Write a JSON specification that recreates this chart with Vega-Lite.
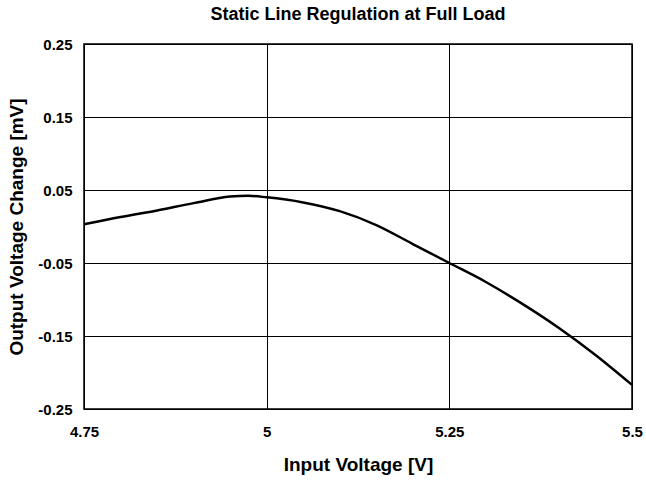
{
  "$schema": "https://vega.github.io/schema/vega-lite/v6.json",
  "autosize": "none",
  "width": 548,
  "height": 365,
  "padding": {"left": 84, "top": 44, "right": 14, "bottom": 74},
  "background": "white",
  "title": {
    "text": "Static Line Regulation at Full Load",
    "font": "Liberation Sans",
    "fontSize": 18,
    "fontWeight": "bold",
    "color": "#000",
    "anchor": "middle",
    "offset": 13
  },
  "data": {
    "values": [
      {"v": 4.75, "dv": 0.003},
      {"v": 4.80, "dv": 0.013},
      {"v": 4.85, "dv": 0.022},
      {"v": 4.90, "dv": 0.032},
      {"v": 4.95, "dv": 0.041},
      {"v": 4.975, "dv": 0.042},
      {"v": 5.00, "dv": 0.040},
      {"v": 5.05, "dv": 0.033},
      {"v": 5.10, "dv": 0.021},
      {"v": 5.15, "dv": 0.002},
      {"v": 5.20, "dv": -0.024},
      {"v": 5.25, "dv": -0.050},
      {"v": 5.30, "dv": -0.076},
      {"v": 5.35, "dv": -0.106},
      {"v": 5.40, "dv": -0.139},
      {"v": 5.45, "dv": -0.176},
      {"v": 5.50, "dv": -0.217}
    ]
  },
  "mark": {"type": "line", "color": "#000", "strokeWidth": 2.5, "interpolate": "monotone"},
  "encoding": {
    "x": {
      "field": "v",
      "type": "quantitative",
      "title": "Input Voltage [V]",
      "scale": {"domain": [4.75, 5.5], "nice": false, "zero": false},
      "axis": {
        "values": [4.75, 5, 5.25, 5.5],
        "labelExpr": "datum.value == 5 ? '5' : (datum.value == 5.5 ? '5.5' : format(datum.value, '.2f'))",
        "labelPadding": 15,
        "titlePadding": 16,
        "labelFlush": false
      }
    },
    "y": {
      "field": "dv",
      "type": "quantitative",
      "title": "Output Voltage Change [mV]",
      "scale": {"domain": [-0.25, 0.25], "nice": false, "zero": false},
      "axis": {
        "values": [-0.25, -0.15, -0.05, 0.05, 0.15, 0.25],
        "labelExpr": "replace(format(datum.value, '.2f'), '\u2212', '-')",
        "labelPadding": 12,
        "titlePadding": 11,
        "labelFlush": false
      }
    }
  },
  "config": {
    "view": {"stroke": "#000", "strokeWidth": 1.5},
    "axis": {
      "domain": false,
      "ticks": false,
      "grid": true,
      "gridColor": "#000",
      "gridOpacity": 1,
      "gridWidth": 1,
      "labelFont": "Liberation Sans",
      "labelFontSize": 15,
      "labelFontWeight": "bold",
      "labelColor": "#000",
      "titleFont": "Liberation Sans",
      "titleFontSize": 19,
      "titleFontWeight": "bold",
      "titleColor": "#000"
    }
  }
}
